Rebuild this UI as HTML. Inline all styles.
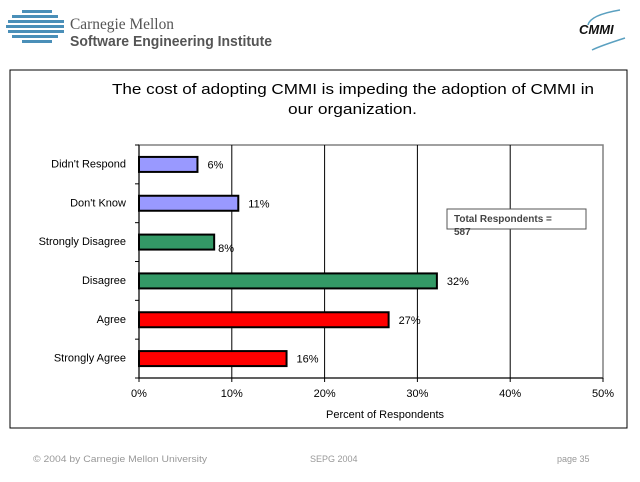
<!DOCTYPE html>
<html><head><meta charset="utf-8"><style>
body{margin:0;background:#fff;font-family:"Liberation Sans",sans-serif}
svg{display:block}
</style></head><body>
<svg id="c" width="640" height="482" xmlns="http://www.w3.org/2000/svg" font-family="Liberation Sans, sans-serif">
<g>
<g fill="#4a8fb8">
<rect x="22" y="10" width="30" height="3"/><rect x="12" y="15" width="46" height="3"/><rect x="8" y="20" width="56" height="3"/>
<rect x="6" y="25" width="58" height="3"/><rect x="8" y="30" width="56" height="3"/><rect x="12" y="35" width="46" height="3"/><rect x="22" y="40" width="30" height="3"/>
</g>
<text x="70" y="29" font-family="Liberation Serif, serif" font-size="16" fill="#555" textLength="104" lengthAdjust="spacingAndGlyphs">Carnegie Mellon</text>
<text x="70" y="46" font-size="15" font-weight="bold" fill="#555" textLength="202" lengthAdjust="spacingAndGlyphs">Software Engineering Institute</text>
</g>
<g>
<path d="M620 10 Q590 15 588 25" stroke="#5aa0c0" fill="none" stroke-width="1.5"/>
<path d="M625 38 Q600 46 592 50" stroke="#5aa0c0" fill="none" stroke-width="1.5"/>
<text x="579" y="34" font-size="13" font-weight="bold" font-style="italic" fill="#111">CMMI</text>
</g>
<rect x="10" y="70" width="617" height="358" fill="#fff" stroke="#000" stroke-width="1"/>
<text x="112" y="94" font-size="15" fill="#000" textLength="482" lengthAdjust="spacingAndGlyphs">The cost of adopting CMMI is impeding the adoption of CMMI in</text>
<text x="288" y="114" font-size="15" fill="#000" textLength="129" lengthAdjust="spacingAndGlyphs">our organization.</text>
<g id="plot"></g>
<text x="385" y="418" text-anchor="middle" font-size="11">Percent of Respondents</text>
<g>
<rect x="447" y="209" width="139" height="20" fill="#fff" stroke="#555"/>
<text x="454" y="222" font-size="10" font-weight="bold" fill="#444">Total Respondents =</text>
<text x="454" y="235" font-size="10" font-weight="bold" fill="#444">587</text>
</g>
<text x="33" y="462" font-size="9" fill="#999" textLength="174" lengthAdjust="spacingAndGlyphs">© 2004 by Carnegie Mellon University</text>
<text x="310" y="462" font-size="9" fill="#999">SEPG 2004</text>
<text x="557" y="462" font-size="9" fill="#999">page 35</text>
</svg>
<script>
const categories=["Didn't Respond","Don't Know","Strongly Disagree","Disagree","Agree","Strongly Agree"];
const values=[6.3,10.7,8.1,32.1,26.9,15.9];
const valueLabels=["6%","11%","8%","32%","27%","16%"];
const colors=["#9999ff","#9999ff","#339966","#339966","#ff0000","#ff0000"];
const ticks=[0,10,20,30,40,50];
const NS="http://www.w3.org/2000/svg";
const g=document.getElementById('plot');
const X0=139,X1=603,Y0=145,Y1=378;
const xs=v=>X0+(v/50)*(X1-X0);
const band=(Y1-Y0)/categories.length;
function mk(t,a){const e=document.createElementNS(NS,t);for(const k in a)e.setAttribute(k,a[k]);g.appendChild(e);return e;}
let r=mk('rect',{x:X0,y:Y0,width:X1-X0,height:Y1-Y0,fill:'#fff',stroke:'#808080','stroke-width':1.5});


ticks.forEach(t=>{
 if(t>0&&t<50){const l=mk('line',{x1:xs(t),x2:xs(t),y1:Y0,y2:Y1,stroke:'#000','stroke-width':1});
 
 }
 mk('line',{x1:xs(t),x2:xs(t),y1:Y1,y2:Y1+4,stroke:'#000'});
 const tx=mk('text',{x:xs(t),y:Y1+19,'text-anchor':'middle','font-size':11});
 tx.textContent=t+'%';
 
 
});
mk('line',{x1:X0,x2:X0,y1:Y0,y2:Y1,stroke:'#000'});
mk('line',{x1:X0,x2:X1,y1:Y1,y2:Y1,stroke:'#000'});
for(let i=0;i<=categories.length;i++)mk('line',{x1:X0-4,x2:X0,y1:Y0+i*band,y2:Y0+i*band,stroke:'#000'});
categories.forEach((c,i)=>{
 const cy=Y0+band*(i+0.5);
 const b=mk('rect',{x:X0,y:cy-7.5,width:xs(values[i])-X0,height:15,fill:colors[i],stroke:'#000','stroke-width':2});
 
 
 const lb=mk('text',{x:X0-13,y:cy+3,'text-anchor':'end','font-size':11});
 lb.textContent=c;
 
 
 const vl=mk('text',{x:xs(values[i])+ (i==2?4:10),y:cy+(i==2?7:1)+3,'font-size':11});
 vl.textContent=valueLabels[i];
 
 
});
</script>
</body></html>
